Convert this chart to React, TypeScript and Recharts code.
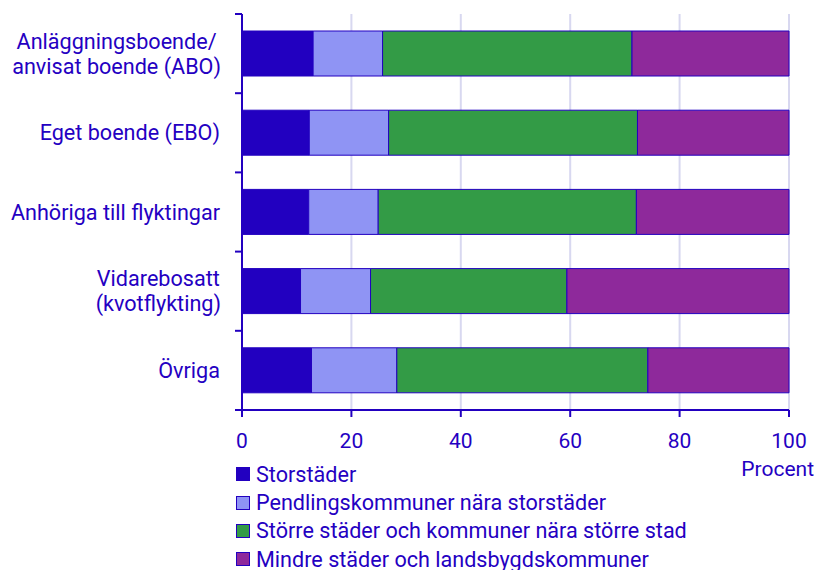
import React from 'react';
import { BarChart, Bar, XAxis, YAxis, CartesianGrid, Legend } from 'recharts';

const categories = [
  'Anläggningsboende/\nanvisat boende (ABO)',
  'Eget boende (EBO)',
  'Anhöriga till flyktingar',
  'Vidarebosatt\n(kvotflykting)',
  'Övriga',
];
const storstader = [13.0, 12.3, 12.2, 10.7, 12.7];
const pendling = [12.7, 14.5, 12.7, 12.8, 15.6];
const storre = [45.6, 45.5, 47.2, 35.9, 45.9];
const mindre = [28.7, 27.7, 27.9, 40.6, 25.8];
const xTicks = [0, 20, 40, 60, 80, 100];

const seriesNames = [
  'Storstäder',
  'Pendlingskommuner nära storstäder',
  'Större städer och kommuner nära större stad',
  'Mindre städer och landsbygdskommuner',
];
const seriesKeys = ['s1', 's2', 's3', 's4'];
const colors = ['#2200C0', '#8F94F4', '#339B46', '#8E299B'];

const data = categories.map((c, i) => ({
  name: c,
  s1: storstader[i],
  s2: pendling[i],
  s3: storre[i],
  s4: mindre[i],
}));

const TEXT = '#2400C2';
const AXIS = '#2200C0';
const FONT = 'Roboto, sans-serif';
const FONT_SIZE = 21;
const LABEL_SIZE = 21.6;
const W = 818;
const H = 570;
const M_TOP = 14;
const X_AXIS_H = 160;
const PLOT_H = H - M_TOP - X_AXIS_H;
const HALF_BAND = PLOT_H / categories.length / 2;

let ctx: CanvasRenderingContext2D | null = null;
function measure(s: string): number {
  if (!ctx) {
    const c = document.createElement('canvas');
    ctx = c.getContext('2d');
  }
  if (!ctx) return s.length * LABEL_SIZE * 0.5;
  ctx.font = `${LABEL_SIZE}px Roboto`;
  return ctx.measureText(s).width;
}

function YTick(props: any) {
  const { x, y, payload, index } = props;
  const axisX = x + 22;
  const lines = String(payload.value).split('\n');
  const lh = 25;
  const startY = y - ((lines.length - 1) * lh) / 2;
  const multi = lines.length > 1;
  const maxW = multi ? Math.max(...lines.map(measure)) : 0;
  const tx = multi ? x + 1 - maxW / 2 : x;
  return (
    <g>
      <line x1={axisX - 7} x2={axisX} y1={y - HALF_BAND} y2={y - HALF_BAND} stroke={AXIS} strokeWidth={2} />
      {index === categories.length - 1 && (
        <line x1={axisX - 7} x2={axisX} y1={y + HALF_BAND} y2={y + HALF_BAND} stroke={AXIS} strokeWidth={2} />
      )}
      <text x={tx} y={startY} textAnchor={multi ? 'middle' : 'end'} fill={TEXT} fontSize={LABEL_SIZE} fontFamily={FONT}>
        {lines.map((l, i) => (
          <tspan key={i} x={tx} y={startY + i * lh} dy="0.355em">
            {l}
          </tspan>
        ))}
      </text>
    </g>
  );
}

function LegendContent() {
  return (
    <div style={{ fontFamily: FONT, fontSize: LABEL_SIZE, color: TEXT }}>
      {seriesNames.map((n, i) => (
        <div key={n} style={{ display: 'flex', alignItems: 'center', height: 28.4, whiteSpace: 'nowrap' }}>
          <span
            style={{
              display: 'inline-block',
              width: 12,
              height: 12,
              background: colors[i],
              border: `1px solid ${AXIS}`,
              marginRight: 6,
            }}
          />
          <span>{n}</span>
        </div>
      ))}
    </div>
  );
}

function ProcentLabel(props: any) {
  const vb = props.viewBox;
  return (
    <text
      x={vb.x + vb.width + 25}
      y={vb.y + 59}
      dy="0.355em"
      textAnchor="end"
      fill={TEXT}
      fontSize={FONT_SIZE}
      fontFamily={FONT}
    >
      Procent
    </text>
  );
}

export default function App() {
  return (
    <div style={{ position: 'absolute', left: 0, top: 0, width: W, height: H, background: '#fff' }}>
      <BarChart
        width={W}
        height={H}
        data={data}
        layout="vertical"
        margin={{ top: M_TOP, right: 29, bottom: 0, left: 0 }}
        barSize={45}
        style={{ fontFamily: FONT }}
      >
        <CartesianGrid horizontal={false} vertical={true} stroke="#D8D8F0" strokeWidth={2} />
        <XAxis
          type="number"
          domain={[0, 100]}
          ticks={xTicks}
          height={X_AXIS_H}
          axisLine={{ stroke: AXIS, strokeWidth: 2 }}
          tickLine={{ stroke: AXIS, strokeWidth: 2 }}
          tickSize={7}
          tickMargin={16}
          tick={{ fill: TEXT, fontSize: FONT_SIZE, fontFamily: FONT }}
          label={<ProcentLabel />}
        />
        <YAxis
          type="category"
          dataKey="name"
          width={242}
          axisLine={{ stroke: AXIS, strokeWidth: 2 }}
          tickLine={false}
          tickSize={7}
          tickMargin={15}
          tick={<YTick />}
          interval={0}
        />
        <Legend
          layout="vertical"
          align="center"
          verticalAlign="middle"
          content={<LegendContent />}
          wrapperStyle={{ left: 236, top: 460, width: 570, height: 115 }}
        />
        {seriesKeys.map((k, i) => (
          <Bar
            key={k}
            dataKey={k}
            name={seriesNames[i]}
            stackId="a"
            fill={colors[i]}
            stroke={AXIS}
            strokeWidth={1}
            isAnimationActive={false}
          />
        ))}
      </BarChart>
    </div>
  );
}
